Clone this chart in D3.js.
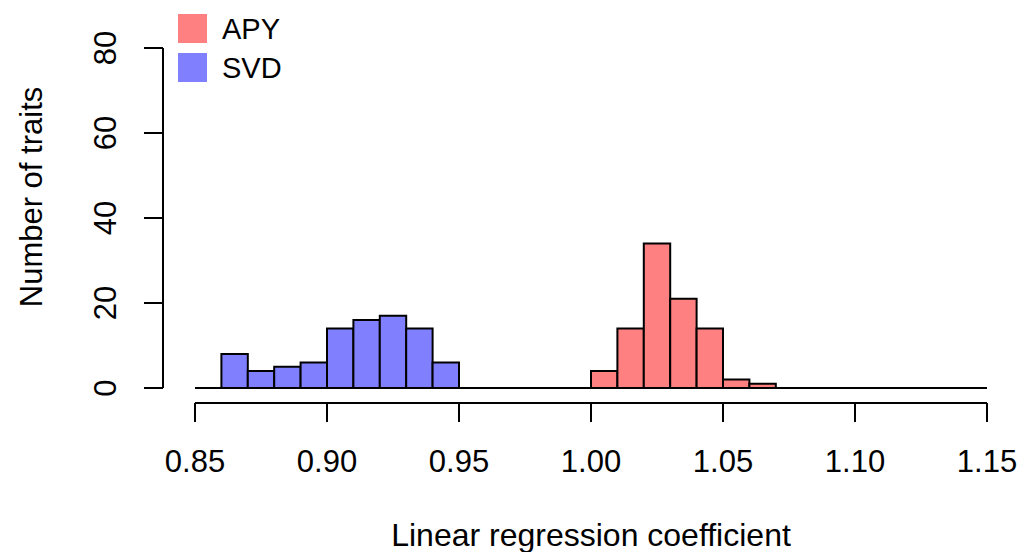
<!DOCTYPE html>
<html>
<head>
<meta charset="utf-8">
<script src="https://cdn.jsdelivr.net/npm/d3@7"></script>
<style>
  body { margin: 0; background: #fff; }
  text { font-family: "Liberation Sans", Arial, sans-serif; }
</style>
</head>
<body>
<div id="chart"></div>
<script>
var width = 1021;
var height = 552;

// histogram bins of width 0.01 from 0.85 to 1.15
var breaks = [0.85, 0.86, 0.87, 0.88, 0.89, 0.90, 0.91, 0.92, 0.93, 0.94,
  0.95, 0.96, 0.97, 0.98, 0.99, 1.00, 1.01, 1.02, 1.03, 1.04,
  1.05, 1.06, 1.07, 1.08, 1.09, 1.10, 1.11, 1.12, 1.13, 1.14, 1.15];
var apyCounts = [0, 0, 0, 0, 0, 0, 0, 0, 0, 0, 0, 0, 0, 0, 0,
  4, 14, 34, 21, 14, 2, 1, 0, 0, 0, 0, 0, 0, 0, 0];
var svdCounts = [0, 8, 4, 5, 6, 14, 16, 17, 14, 6, 0, 0, 0, 0, 0,
  0, 0, 0, 0, 0, 0, 0, 0, 0, 0, 0, 0, 0, 0, 0];
var xTicks = [0.85, 0.90, 0.95, 1.00, 1.05, 1.10, 1.15];
var yTicks = [0, 20, 40, 60, 80];
var seriesNames = ["APY", "SVD"];
var seriesColors = ["#ff8080", "#8080ff"];

var svg = d3.select("#chart")
  .append("svg")
  .attr("width", width)
  .attr("height", height);

var x = d3.scaleLinear().domain([0.85, 1.15]).range([195, 987]);
var y = d3.scaleLinear().domain([0, 80]).range([388, 48]);

function drawHist(counts, color) {
  var bins = counts.map(function(c, i) {
    return { x0: breaks[i], x1: breaks[i + 1], n: c };
  }).filter(function(d) { return d.n > 0; });
  svg.append("g")
    .selectAll("rect")
    .data(bins)
    .enter()
    .append("rect")
    .attr("x", function(d) { return x(d.x0); })
    .attr("width", function(d) { return x(d.x1) - x(d.x0); })
    .attr("y", function(d) { return y(d.n); })
    .attr("height", function(d) { return y(0) - y(d.n); })
    .style("fill", color)
    .style("stroke", "#000")
    .style("stroke-width", 2);
}

// zero-height bins show as a flat line along the baseline
svg.append("line")
  .attr("x1", x(breaks[0]))
  .attr("x2", x(breaks[breaks.length - 1]))
  .attr("y1", y(0))
  .attr("y2", y(0))
  .style("stroke", "#000")
  .style("stroke-width", 2);

drawHist(apyCounts, seriesColors[0]);
drawHist(svdCounts, seriesColors[1]);

// x axis
var xAxis = svg.append("g").attr("transform", "translate(0,403)");
xAxis.append("line")
  .attr("x1", x(xTicks[0])).attr("x2", x(xTicks[xTicks.length - 1]))
  .style("stroke", "#000").style("stroke-width", 2);
xAxis.selectAll(".tick")
  .data(xTicks)
  .enter()
  .append("line")
  .attr("x1", function(d) { return x(d); })
  .attr("x2", function(d) { return x(d); })
  .attr("y1", 0).attr("y2", 19)
  .style("stroke", "#000").style("stroke-width", 2);
xAxis.selectAll("text")
  .data(xTicks)
  .enter()
  .append("text")
  .attr("x", function(d) { return x(d); })
  .attr("y", 69)
  .attr("text-anchor", "middle")
  .style("font-size", "31px")
  .text(function(d) { return d3.format(".2f")(d); });

// y axis
var yAxis = svg.append("g").attr("transform", "translate(163,0)");
yAxis.append("line")
  .attr("y1", y(yTicks[0])).attr("y2", y(yTicks[yTicks.length - 1]))
  .style("stroke", "#000").style("stroke-width", 2);
yAxis.selectAll(".tick")
  .data(yTicks)
  .enter()
  .append("line")
  .attr("y1", function(d) { return y(d); })
  .attr("y2", function(d) { return y(d); })
  .attr("x1", 0).attr("x2", -19)
  .style("stroke", "#000").style("stroke-width", 2);
yAxis.selectAll("text")
  .data(yTicks)
  .enter()
  .append("text")
  .attr("transform", function(d) { return "translate(-47," + y(d) + ") rotate(-90)"; })
  .attr("text-anchor", "middle")
  .style("font-size", "31px")
  .text(function(d) { return d; });

// axis titles
svg.append("text")
  .attr("x", x(1.0))
  .attr("y", 546)
  .attr("text-anchor", "middle")
  .style("font-size", "32px")
  .text("Linear regression coefficient");
svg.append("text")
  .attr("transform", "translate(42,197) rotate(-90)")
  .attr("text-anchor", "middle")
  .style("font-size", "31px")
  .text("Number of traits");

// legend
var legend = svg.append("g")
  .selectAll("g")
  .data(seriesNames)
  .enter()
  .append("g")
  .attr("transform", function(d, i) { return "translate(178," + (14 + i * 39) + ")"; });
legend.append("rect")
  .attr("width", 29).attr("height", 29)
  .style("fill", function(d, i) { return seriesColors[i]; });
legend.append("text")
  .attr("x", 44).attr("y", 25)
  .style("font-size", "29px")
  .text(function(d) { return d; });
</script>
</body>
</html>
